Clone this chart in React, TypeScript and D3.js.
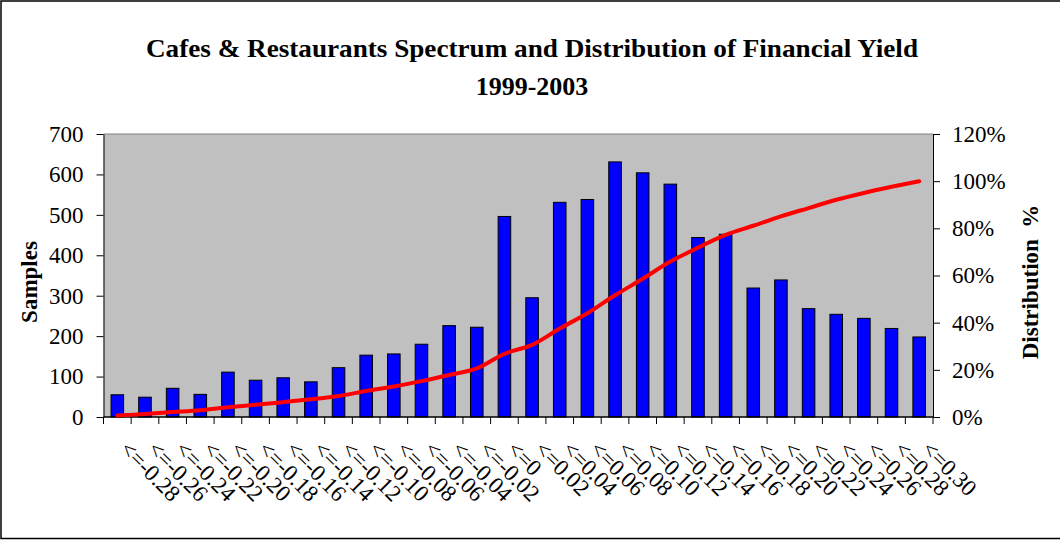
import React, { useEffect, useRef } from 'react'
import * as d3 from 'd3'

// yield bands (upper bound of each class)
const categories = [
  '<=-0.28', '<=-0.26', '<=-0.24', '<=-0.22', '<=-0.20', '<=-0.18', '<=-0.16', '<=-0.14',
  '<=-0.12', '<=-0.10', '<=-0.08', '<=-0.06', '<=-0.04', '<=-0.02', '<=0', '<=0.02',
  '<=0.04', '<=0.06', '<=0.08', '<=0.10', '<=0.12', '<=0.14', '<=0.16', '<=0.18',
  '<=0.20', '<=0.22', '<=0.24', '<=0.26', '<=0.28', '<=0.30',
]

// number of samples per band
const samples = [
  55, 49, 71, 56, 111, 91, 97, 87, 122, 153, 156, 180, 226, 222, 496,
  295, 531, 538, 631, 604, 576, 444, 452, 319, 339, 268, 254, 244, 219, 198,
]

// cumulative distribution, %
const distribution = [
  0.6, 1.3, 2.1, 2.9, 4.1, 5.2, 6.3, 7.5, 8.9, 11.0, 12.9, 15.2, 17.8, 20.6, 26.8,
  30.6, 37.5, 44.0, 51.6, 58.6, 65.9, 71.8, 77.2, 81.1, 85.1, 88.6, 92.1, 95.0, 97.6, 100,
]

const leftTicks = [0, 100, 200, 300, 400, 500, 600, 700]
const rightTicks = [0, 20, 40, 60, 80, 100, 120]

const W = 1060
const H = 540
const plot = { left: 103.5, right: 933, top: 134, bottom: 417 }
const serif = '"Liberation Serif", "Times New Roman", serif'

export default function App() {
  const svgRef = useRef<SVGSVGElement>(null)

  useEffect(() => {
    if (!svgRef.current) return
    const svg = d3.select(svgRef.current)
    svg.selectAll('*').remove()

    // frame
    svg.append('rect')
      .attr('x', 1).attr('y', 1).attr('width', W + 2).attr('height', H - 2.5)
      .attr('fill', '#fff').attr('stroke', '#000').attr('stroke-width', 1.5)

    const x = d3.scaleBand<string>().domain(categories).range([plot.left, plot.right]).padding(0)
    const y = d3.scaleLinear().domain([0, 700]).range([plot.bottom, plot.top])
    const y2 = d3.scaleLinear().domain([0, 120]).range([plot.bottom, plot.top])

    // plot area
    svg.append('rect')
      .attr('x', plot.left).attr('y', plot.top)
      .attr('width', plot.right - plot.left).attr('height', plot.bottom - plot.top)
      .attr('fill', '#c0c0c0')
    svg.append('line')
      .attr('x1', plot.left).attr('x2', plot.right)
      .attr('y1', plot.top).attr('y2', plot.top)
      .attr('stroke', '#808080').attr('stroke-width', 1)

    // bars
    const barW = x.bandwidth() / 2.2
    svg.append('g').selectAll('rect')
      .data(samples)
      .join('rect')
      .attr('x', (_, i) => x(categories[i])! + (x.bandwidth() - barW) / 2)
      .attr('y', d => y(d))
      .attr('width', barW)
      .attr('height', d => y(0) - y(d))
      .attr('fill', '#0000ff')
      .attr('stroke', '#000')
      .attr('stroke-width', 1)

    // left axis
    const leftAxis = svg.append('g')
      .attr('transform', `translate(${plot.left},0)`)
      .call(d3.axisLeft(y).tickValues(leftTicks).tickSize(7).tickPadding(13).tickSizeOuter(0))
    leftAxis.attr('font-family', null).attr('font-size', null)
    leftAxis.select('.domain').attr('stroke', '#000')
    leftAxis.selectAll('text')
      .style('font-family', serif).style('font-size', '23px').attr('fill', '#000')

    // right axis
    const rightAxis = svg.append('g')
      .attr('transform', `translate(${plot.right},0)`)
      .call(d3.axisRight(y2).tickValues(rightTicks).tickSize(7).tickPadding(12).tickSizeOuter(0)
        .tickFormat(d => `${d}%`))
    rightAxis.attr('font-family', null).attr('font-size', null)
    rightAxis.select('.domain').attr('stroke', '#000')
    rightAxis.selectAll('text')
      .style('font-family', serif).style('font-size', '23px').attr('fill', '#000')

    // bottom axis: ticks at category boundaries
    const bottom = svg.append('g')
    bottom.append('line')
      .attr('x1', plot.left).attr('x2', plot.right)
      .attr('y1', plot.bottom).attr('y2', plot.bottom)
      .attr('stroke', '#000').attr('stroke-width', 1.5)
    const bounds = categories.map(c => x(c)!).concat([plot.right])
    bottom.selectAll('line.tick')
      .data(bounds)
      .join('line')
      .attr('class', 'tick')
      .attr('x1', d => d).attr('x2', d => d)
      .attr('y1', plot.bottom).attr('y2', plot.bottom + 7)
      .attr('stroke', '#000')
    bottom.selectAll('text')
      .data(categories)
      .join('text')
      .attr('transform', d => `translate(${x(d)! + x.bandwidth() / 2 + 13},${plot.bottom + 22}) rotate(45)`)
      .attr('dy', '0.71em')
      .style('font-family', serif).style('font-size', '23px')
      .text(d => d)

    // cumulative line
    const line = d3.line<number>()
      .x((_, i) => x(categories[i])! + x.bandwidth() / 2)
      .y(d => y2(d))
      .curve(d3.curveCatmullRom.alpha(0.5))
    svg.append('path')
      .datum(distribution)
      .attr('d', line)
      .attr('fill', 'none')
      .attr('stroke', '#ff0000')
      .attr('stroke-width', 4)
      .attr('stroke-linecap', 'round')

    // titles
    svg.append('text')
      .attr('x', 532).attr('y', 57)
      .attr('text-anchor', 'middle')
      .style('font-family', serif).attr('font-weight', 'bold').attr('font-size', 26)
      .attr('textLength', 772).attr('lengthAdjust', 'spacingAndGlyphs')
      .text('Cafes & Restaurants Spectrum and Distribution of Financial Yield')
    svg.append('text')
      .attr('x', 532).attr('y', 95)
      .attr('text-anchor', 'middle')
      .style('font-family', serif).attr('font-weight', 'bold').attr('font-size', 26)
      .text('1999-2003')

    svg.append('text')
      .attr('transform', 'translate(37,282) rotate(-90)')
      .attr('text-anchor', 'middle')
      .style('font-family', serif).attr('font-weight', 'bold').attr('font-size', 23)
      .text('Samples')
    svg.append('text')
      .attr('transform', 'translate(1038,282) rotate(-90)')
      .attr('text-anchor', 'middle')
      .style('font-family', serif).attr('font-weight', 'bold').attr('font-size', 23)
      .style('white-space', 'pre')
      .text('Distribution  %')
  }, [])

  return (
    <svg
      ref={svgRef}
      width={W}
      height={H}
      style={{ position: 'absolute', left: 0, top: 0, display: 'block' }}
    />
  )
}
